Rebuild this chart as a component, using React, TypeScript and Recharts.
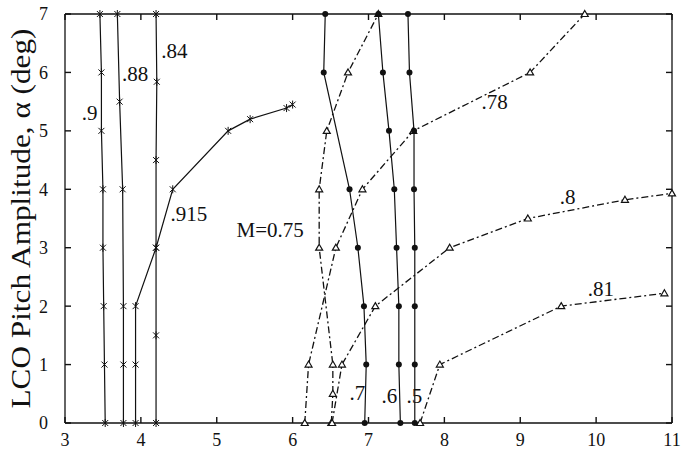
import React from "react";
import {
  ComposedChart,
  XAxis,
  YAxis,
  Line,
  Scatter,
} from "recharts";

// LCO pitch amplitude (deg) vs speed, one array per Mach number
const xTicks = [3, 4, 5, 6, 7, 8, 9, 10, 11];
const yTicks = [0, 1, 2, 3, 4, 5, 6, 7];

// star markers
const mach90 = [
  { x: 3.53, y: 0 }, { x: 3.52, y: 1 }, { x: 3.51, y: 2 }, { x: 3.5, y: 3 },
  { x: 3.5, y: 4 }, { x: 3.48, y: 5 }, { x: 3.48, y: 6 }, { x: 3.46, y: 7 },
];
const mach88 = [
  { x: 3.77, y: 0 }, { x: 3.77, y: 1 }, { x: 3.77, y: 2 }, { x: 3.76, y: 4 },
  { x: 3.72, y: 5.5 }, { x: 3.69, y: 7 },
];
const mach915 = [
  { x: 3.93, y: 0 }, { x: 3.93, y: 1 }, { x: 3.93, y: 2 }, { x: 4.2, y: 3 },
  { x: 4.42, y: 4 }, { x: 5.15, y: 5 }, { x: 5.44, y: 5.2 }, { x: 5.92, y: 5.39 },
  { x: 6.0, y: 5.45 },
];
const mach84 = [
  { x: 4.2, y: 0 }, { x: 4.2, y: 1.5 }, { x: 4.2, y: 3 }, { x: 4.2, y: 4.5 },
  { x: 4.21, y: 5.84 }, { x: 4.2, y: 7 },
];

// triangle markers, dash-dot
const mach75 = [
  { x: 6.51, y: 0 }, { x: 6.53, y: 0.5 }, { x: 6.53, y: 1 }, { x: 6.35, y: 3 },
  { x: 6.35, y: 4 }, { x: 6.45, y: 5 }, { x: 6.73, y: 6 }, { x: 7.13, y: 7 },
];
const mach78 = [
  { x: 6.16, y: 0 }, { x: 6.21, y: 1 }, { x: 6.57, y: 3 }, { x: 6.92, y: 4 },
  { x: 7.59, y: 5 }, { x: 9.13, y: 6 }, { x: 9.85, y: 7 },
];
const mach80 = [
  { x: 6.52, y: 0 }, { x: 6.65, y: 1 }, { x: 7.09, y: 2 }, { x: 8.07, y: 3 },
  { x: 9.1, y: 3.5 }, { x: 10.38, y: 3.82 }, { x: 11, y: 3.93 },
];
const mach81 = [
  { x: 7.68, y: 0 }, { x: 7.94, y: 1 }, { x: 9.54, y: 2 }, { x: 10.9, y: 2.22 },
];

// filled circles, solid
const mach70 = [
  { x: 6.43, y: 7 }, { x: 6.41, y: 6 }, { x: 6.75, y: 4 }, { x: 6.86, y: 3 },
  { x: 6.94, y: 2 }, { x: 6.97, y: 1 }, { x: 6.95, y: 0 },
];
const mach60 = [
  { x: 7.13, y: 7 }, { x: 7.19, y: 6 }, { x: 7.27, y: 5 }, { x: 7.34, y: 4 },
  { x: 7.37, y: 3 }, { x: 7.4, y: 2 }, { x: 7.4, y: 1 }, { x: 7.42, y: 0 },
];
const mach50 = [
  { x: 7.52, y: 7 }, { x: 7.54, y: 6 }, { x: 7.6, y: 5 }, { x: 7.6, y: 4 },
  { x: 7.61, y: 3 }, { x: 7.61, y: 2 }, { x: 7.61, y: 1 }, { x: 7.61, y: 0 },
];

// curve labels, anchored at their left edge
const notes = [
  { x: 3.22, y: 5.31, text: ".9" },
  { x: 3.75, y: 5.98, text: ".88" },
  { x: 4.27, y: 6.37, text: ".84" },
  { x: 4.39, y: 3.58, text: ".915" },
  { x: 5.26, y: 3.3, text: "M=0.75" },
  { x: 8.49, y: 5.5, text: ".78" },
  { x: 9.52, y: 3.86, text: ".8" },
  { x: 9.89, y: 2.29, text: ".81" },
  { x: 6.75, y: 0.51, text: ".7" },
  { x: 7.17, y: 0.47, text: ".6" },
  { x: 7.5, y: 0.47, text: ".5" },
];

const FONT = "'Liberation Serif', 'DejaVu Serif', serif";
const INK = "#111";
const TICK_LEN = 6;

const starDot = (p: any) => (
  <g key={`s-${p.index}-${p.cx}-${p.cy}`} stroke={INK} strokeWidth={1}>
    <line x1={p.cx - 3} y1={p.cy - 3} x2={p.cx + 3} y2={p.cy + 3} />
    <line x1={p.cx - 3} y1={p.cy + 3} x2={p.cx + 3} y2={p.cy - 3} />
    <line x1={p.cx} y1={p.cy - 4} x2={p.cx} y2={p.cy + 4} />
  </g>
);

const triDot = (p: any) => (
  <path
    key={`t-${p.index}-${p.cx}-${p.cy}`}
    d={`M${p.cx},${p.cy - 3.5} L${p.cx + 3.5},${p.cy + 2.5} L${p.cx - 3.5},${p.cy + 2.5} Z`}
    fill="#fff"
    stroke={INK}
    strokeWidth={1.2}
  />
);

const circleDot = (p: any) => (
  <circle key={`c-${p.index}-${p.cx}-${p.cy}`} cx={p.cx} cy={p.cy} r={3} fill={INK} />
);

const noteShape = (p: any) => (
  <text
    x={p.cx}
    y={p.cy}
    fontFamily={FONT}
    fontSize={21}
    fill={INK}
    dominantBaseline="central"
  >
    {p.payload.text}
  </text>
);

// inward tick marks on all four sides, placed by the axis scales
const bottomRule = xTicks.map((v) => ({ x: v, y: 0 }));
const topRule = xTicks.map((v) => ({ x: v, y: 7 }));
const leftRule = yTicks.map((v) => ({ x: 3, y: v }));
const rightRule = yTicks.map((v) => ({ x: 11, y: v }));

const tickMark = (dx: number, dy: number) => (p: any) => (
  <line
    x1={p.cx}
    y1={p.cy}
    x2={p.cx + dx * TICK_LEN}
    y2={p.cy + dy * TICK_LEN}
    stroke={INK}
    strokeWidth={1.4}
  />
);

const YLabel = (props: any) => {
  const vb = props.viewBox || { x: 0, y: 14, height: 409 };
  const cx = 21;
  const cy = vb.y + vb.height / 2;
  return (
    <text
      x={cx}
      y={cy}
      transform={`rotate(-90 ${cx} ${cy})`}
      textAnchor="middle"
      dominantBaseline="central"
      fontFamily={FONT}
      fontSize={27}
      fill={INK}
      textLength={380}
      lengthAdjust="spacingAndGlyphs"
    >
      LCO Pitch Amplitude, α (deg)
    </text>
  );
};

const solidSeries = [mach90, mach88, mach915, mach84];
const triSeries = [mach75, mach78, mach80, mach81];
const circleSeries = [mach70, mach60, mach50];

export default function App() {
  const tickStyle = { fontFamily: FONT, fontSize: 18, fill: INK };
  return (
    <div style={{ position: "absolute", left: 0, top: 0, background: "#fff" }}>
      <ComposedChart
        width={685}
        height={452}
        margin={{ top: 13, right: 12, bottom: 0, left: 0 }}
      >
        <XAxis
          xAxisId="b"
          type="number"
          dataKey="x"
          domain={[3, 11]}
          ticks={xTicks}
          height={29}
          tickSize={0}
          tickMargin={10}
          tickLine={false}
          tick={tickStyle}
          stroke={INK}
          strokeWidth={1.3}
        />
        <XAxis
          xAxisId="t"
          orientation="top"
          type="number"
          dataKey="x"
          domain={[3, 11]}
          ticks={xTicks}
          height={1}
          tickLine={false}
          tick={false}
          stroke={INK}
          strokeWidth={1.3}
        />
        <YAxis
          yAxisId="l"
          type="number"
          dataKey="y"
          domain={[0, 7]}
          ticks={yTicks}
          width={65}
          tickSize={0}
          tickMargin={17}
          tickLine={false}
          tick={tickStyle}
          stroke={INK}
          strokeWidth={1.3}
          label={{ content: YLabel }}
        />
        <YAxis
          yAxisId="r"
          orientation="right"
          type="number"
          dataKey="y"
          domain={[0, 7]}
          ticks={yTicks}
          width={1}
          tickLine={false}
          tick={false}
          stroke={INK}
          strokeWidth={1.3}
        />

        {solidSeries.map((s, i) => (
          <Line
            key={`star-${i}`}
            xAxisId="b"
            yAxisId="l"
            data={s}
            dataKey="y"
            type="linear"
            stroke={INK}
            strokeWidth={1.2}
            dot={starDot}
            activeDot={false}
            isAnimationActive={false}
          />
        ))}
        {triSeries.map((s, i) => (
          <Line
            key={`tri-${i}`}
            xAxisId="b"
            yAxisId="l"
            data={s}
            dataKey="y"
            type="linear"
            stroke={INK}
            strokeWidth={1.3}
            strokeDasharray="7 3 2 3"
            dot={triDot}
            activeDot={false}
            isAnimationActive={false}
          />
        ))}
        {circleSeries.map((s, i) => (
          <Line
            key={`circ-${i}`}
            xAxisId="b"
            yAxisId="l"
            data={s}
            dataKey="y"
            type="linear"
            stroke={INK}
            strokeWidth={1.2}
            dot={circleDot}
            activeDot={false}
            isAnimationActive={false}
          />
        ))}
        <Scatter
          xAxisId="b"
          yAxisId="l"
          data={notes}
          dataKey="y"
          shape={noteShape}
          isAnimationActive={false}
        />
        <Scatter xAxisId="b" yAxisId="l" data={bottomRule} dataKey="y" shape={tickMark(0, -1)} isAnimationActive={false} />
        <Scatter xAxisId="b" yAxisId="l" data={topRule} dataKey="y" shape={tickMark(0, 1)} isAnimationActive={false} />
        <Scatter xAxisId="b" yAxisId="l" data={leftRule} dataKey="y" shape={tickMark(1, 0)} isAnimationActive={false} />
        <Scatter xAxisId="b" yAxisId="l" data={rightRule} dataKey="y" shape={tickMark(-1, 0)} isAnimationActive={false} />
      </ComposedChart>
    </div>
  );
}
